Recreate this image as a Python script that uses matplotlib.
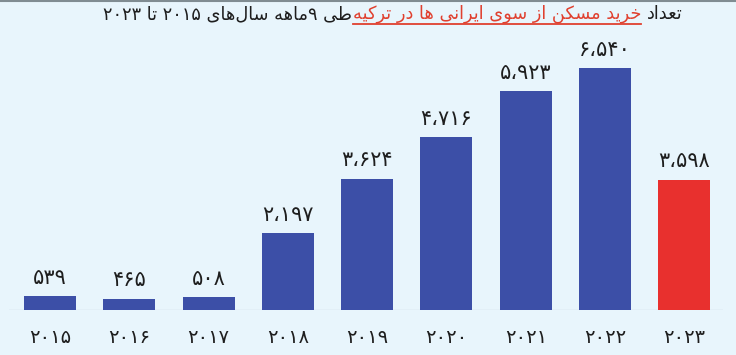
import re
import matplotlib
matplotlib.use("Agg")
import matplotlib.pyplot as plt
from matplotlib.lines import Line2D

# ---------------- data ----------------
years = ["۲۰۱۵", "۲۰۱۶", "۲۰۱۷", "۲۰۱۸", "۲۰۱۹", "۲۰۲۰", "۲۰۲۱", "۲۰۲۲", "۲۰۲۳"]
values = [539, 465, 508, 2197, 3624, 4716, 5923, 6540, 3598]
value_labels = ["۵۳۹", "۴۶۵", "۵۰۸", "۲،۱۹۷", "۳،۶۲۴", "۴،۷۱۶", "۵،۹۲۳", "۶،۵۴۰", "۳،۵۹۸"]
title_start = "تعداد "
title_highlight = "خرید مسکن از سوی ایرانی ها در ترکیه"
title_end = "طی ۹ماهه سال‌های ۲۰۱۵ تا ۲۰۲۳"

BG = "#e8f5fc"
BLUE = "#3c4fa7"
RED = "#e8302e"
TXT = "#1e1e1e"

# ---------------- minimal Persian shaping ----------------
FORMS = {
    'ا': ('\uFE8D', '\uFE8E', None, None),
    'ب': ('\uFE8F', '\uFE90', '\uFE91', '\uFE92'),
    'ت': ('\uFE95', '\uFE96', '\uFE97', '\uFE98'),
    'خ': ('\uFEA5', '\uFEA6', '\uFEA7', '\uFEA8'),
    'د': ('\uFEA9', '\uFEAA', None, None),
    'ر': ('\uFEAD', '\uFEAE', None, None),
    'ز': ('\uFEAF', '\uFEB0', None, None),
    'س': ('\uFEB1', '\uFEB2', '\uFEB3', '\uFEB4'),
    'ط': ('\uFEC1', '\uFEC2', '\uFEC3', '\uFEC4'),
    'ع': ('\uFEC9', '\uFECA', '\uFECB', '\uFECC'),
    'ل': ('\uFEDD', '\uFEDE', '\uFEDF', '\uFEE0'),
    'م': ('\uFEE1', '\uFEE2', '\uFEE3', '\uFEE4'),
    'ن': ('\uFEE5', '\uFEE6', '\uFEE7', '\uFEE8'),
    'ه': ('\uFEE9', '\uFEEA', '\uFEEB', '\uFEEC'),
    'و': ('\uFEED', '\uFEEE', None, None),
    'ی': ('\uFBFC', '\uFBFD', '\uFBFE', '\uFBFF'),
    'ک': ('\uFB8E', '\uFB8F', '\uFB90', '\uFB91'),
}


def dual(c):
    return c in FORMS and FORMS[c][2] is not None


def shape(s):
    out = []
    n = len(s)
    for i, c in enumerate(s):
        if c == '\u200c':
            continue
        if c not in FORMS:
            out.append(c)
            continue
        prev = s[i - 1] if i > 0 else ''
        nxt = s[i + 1] if i + 1 < n else ''
        cp = dual(prev)
        cn = dual(c) and nxt in FORMS
        iso, fin, ini, med = FORMS[c]
        if cp and cn:
            out.append(med)
        elif cp:
            out.append(fin)
        elif cn:
            out.append(ini)
        else:
            out.append(iso)
    shaped = ''.join(out)
    tokens = re.findall(r'[۰-۹0-9]+(?:[،٬][۰-۹0-9]+)*|[^۰-۹0-9]+', shaped)
    vis = []
    for t in reversed(tokens):
        if re.match(r'[۰-۹0-9]', t):
            vis.append(t)
        else:
            vis.append(t[::-1])
    return ''.join(vis)


plt.rcParams['font.family'] = ['DejaVu Sans']

W, H = 736, 355
fig = plt.figure(figsize=(W / 100, H / 100), dpi=100, facecolor=BG)

# axes: baseline at y=310px, x from 9 to 723 px
ax = fig.add_axes([9 / W, (H - 310) / H, (723 - 9) / W, (310 - 40) / H])
ax.set_facecolor(BG)
x = list(range(len(values)))
colors = [BLUE] * (len(values) - 1) + [RED]
bars = ax.bar(x, values, width=0.656, color=colors, zorder=2)
ax.set_xlim(-0.517, 8.487)
ax.set_ylim(171, 7277)
for s in ax.spines.values():
    s.set_visible(False)
ax.axhline(171, color="#cddbe3", lw=1, zorder=1)
ax.set_yticks([])
ax.set_xticks(x)
ax.set_xticklabels(years, fontsize=14, color=TXT)
ax.tick_params(axis='x', length=0, pad=13)
for xi, v, lab in zip(x, values, value_labels):
    ax.annotate(lab, (xi, v), xytext=(0, 6), textcoords='offset points',
                ha='center', va='bottom', fontsize=15, color=TXT)

# top border
fig.add_artist(Line2D([0, 1], [1 - 1 / H, 1 - 1 / H], transform=fig.transFigure,
                      color="#808c92", lw=1.5))

# title with highlighted part (RTL)
r = fig.canvas.get_renderer()
xr = 683
yc = H - 14
for txt, col, ul in [(title_start, TXT, False), (title_highlight, "#e0402f", True),
                     (title_end, TXT, False)]:
    t = fig.text(xr / W, yc / H, shape(txt.strip()), ha='right', va='center',
                 fontsize=12.8, color=col)
    bb = t.get_window_extent(r)
    if ul:
        fig.add_artist(Line2D([bb.x0 / W, bb.x1 / W], [(bb.y0 - 0.5) / H, (bb.y0 - 0.5) / H],
                              transform=fig.transFigure, color=col, lw=1.3))
    gap = 6 if txt.endswith(' ') else 1
    xr = bb.x0 - gap

fig.savefig("out.png", dpi=100, facecolor=BG)
